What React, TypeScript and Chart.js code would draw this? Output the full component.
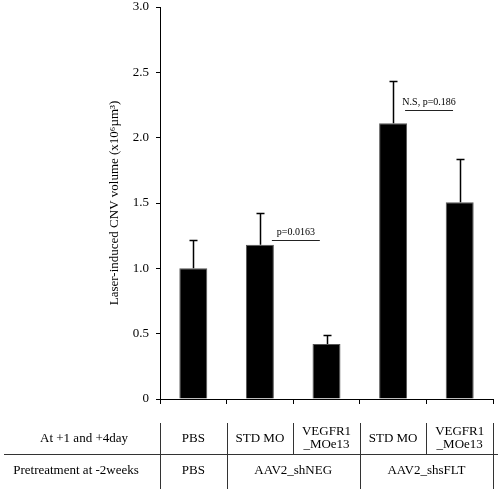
import React, { useEffect, useRef } from "react";
import { Chart, registerables } from "chart.js";

Chart.register(...registerables);

const categories = ["PBS", "STD MO (shNEG)", "VEGFR1_MOe13 (shNEG)", "STD MO (shsFLT)", "VEGFR1_MOe13 (shsFLT)"];
const meanValues = [1.0, 1.18, 0.42, 2.11, 1.505];
const errorTops = [1.22, 1.42, 0.49, 2.43, 1.84];
const yTickValues = [0, 0.5, 1.0, 1.5, 2.0, 2.5, 3.0];
const yTickLabels = ["0", "0.5", "1.0", "1.5", "2.0", "2.5", "3.0"];
const yAxisTitle = "Laser-induced CNV volume (x10\u2076\u00B5m\u00B3)";

const sigLabels = ["p=0.0163", "N.S, p=0.186"];
const sigFrom = [1.18, 3.18];
const sigTo = [1.9, 3.9];
const sigY = [1.22, 2.21];

const row1Header = "At +1 and +4day";
const row2Header = "Pretreatment at -2weeks";
const row1Cells = [["PBS"], ["STD MO"], ["VEGFR1", "_MOe13"], ["STD MO"], ["VEGFR1", "_MOe13"]];
const row2Groups = ["PBS", "AAV2_shNEG", "AAV2_shsFLT"];
const row2Spans = [[0, 1], [1, 3], [3, 5]];

const SERIF = "'Liberation Serif', 'Times New Roman', serif";

const overlayPlugin = {
  id: "overlay",
  afterDatasetsDraw(chart: any) {
    const ctx = chart.ctx;
    const x = chart.scales.x;
    const y = chart.scales.y;
    ctx.save();
    ctx.strokeStyle = "#000";
    ctx.lineWidth = 1.5;
    meanValues.forEach((v, i) => {
      const px = Math.round(x.getPixelForValue(i)) + 0.5;
      const y0 = y.getPixelForValue(v);
      const y1 = Math.round(y.getPixelForValue(errorTops[i])) + 0.5;
      ctx.beginPath();
      ctx.moveTo(px, y0);
      ctx.lineTo(px, y1);
      ctx.moveTo(px - 4, y1);
      ctx.lineTo(px + 4, y1);
      ctx.stroke();
    });
    ctx.lineWidth = 1;
    ctx.strokeStyle = "#222";
    ctx.fillStyle = "#000";
    ctx.font = "10px " + SERIF;
    ctx.textAlign = "center";
    ctx.textBaseline = "alphabetic";
    sigLabels.forEach((lab, i) => {
      const xa = x.getPixelForValue(sigFrom[i]);
      const xb = x.getPixelForValue(sigTo[i]);
      const py = Math.round(y.getPixelForValue(sigY[i])) + 0.5;
      ctx.beginPath();
      ctx.moveTo(xa, py);
      ctx.lineTo(xb, py);
      ctx.stroke();
      ctx.fillText(lab, (xa + xb) / 2, py - 6);
    });
    ctx.restore();
  },
  afterDraw(chart: any) {
    const ctx = chart.ctx;
    const x = chart.scales.x;
    const edge = (k: number) => Math.round(x.getPixelForValue(k - 0.5)) + 0.5;
    ctx.save();
    ctx.strokeStyle = "#333";
    ctx.lineWidth = 1;
    const top1 = 423, mid = 454.5, bot = 489;
    ctx.beginPath();
    ctx.moveTo(4, mid);
    ctx.lineTo(498, mid);
    ctx.stroke();
    ctx.beginPath();
    for (let k = 0; k <= 5; k++) {
      const px = edge(k);
      ctx.moveTo(px, top1);
      ctx.lineTo(px, mid);
    }
    const row2Edges = [0, 1, 3, 5];
    row2Edges.forEach((k) => {
      const px = edge(k);
      ctx.moveTo(px, mid);
      ctx.lineTo(px, bot);
    });
    ctx.stroke();

    ctx.fillStyle = "#000";
    ctx.font = "13px " + SERIF;
    ctx.textAlign = "center";
    ctx.textBaseline = "middle";
    ctx.fillText(row1Header, 84, 439);
    ctx.fillText(row2Header, 76, 471);
    row1Cells.forEach((lines, i) => {
      const cx = x.getPixelForValue(i);
      if (lines.length === 1) {
        ctx.fillText(lines[0], cx, 439);
      } else {
        ctx.fillText(lines[0], cx, 432);
        ctx.fillText(lines[1], cx, 445);
      }
    });
    row2Groups.forEach((g, i) => {
      const [a, b] = row2Spans[i];
      const cx = (x.getPixelForValue(a - 0.5) + x.getPixelForValue(b - 0.5)) / 2;
      ctx.fillText(g, cx, 471);
    });
    ctx.restore();
  },
};

export default function App() {
  const ref = useRef<HTMLCanvasElement>(null);
  useEffect(() => {
    if (!ref.current) return;
    const chart = new Chart(ref.current, {
      type: "bar",
      data: {
        labels: categories,
        datasets: [
          {
            data: meanValues,
            backgroundColor: "#000",
            borderColor: "#555",
            borderWidth: 1,
            barPercentage: 0.42,
            categoryPercentage: 1.0,
          },
        ],
      },
      options: {
        animation: false,
        responsive: false,
        devicePixelRatio: 1,
        layout: { padding: { top: 7, right: 5, bottom: 0, left: 0 } },
        plugins: { legend: { display: false }, tooltip: { enabled: false } },
        scales: {
          x: {
            grid: {
              display: true,
              drawOnChartArea: false,
              drawTicks: true,
              tickLength: 5,
              color: "#000",
              offset: true,
            },
            border: { display: true, color: "#000", width: 1 },
            ticks: { display: false },
            afterFit: (s: any) => {
              s.height = 98;
              s.paddingLeft = 0;
              s.paddingRight = 0;
            },
          },
          y: {
            min: 0,
            max: 3,
            afterBuildTicks: (s: any) => {
              s.ticks = yTickValues.map((v) => ({ value: v }));
            },
            ticks: {
              font: { size: 13, family: SERIF },
              color: "#000",
              padding: 7,
              callback: (_v: any, i: number) => yTickLabels[i],
            },
            grid: { drawOnChartArea: false, drawTicks: true, tickLength: 4, color: "#000" },
            border: { display: true, color: "#000", width: 1 },
            title: {
              display: true,
              text: yAxisTitle,
              font: { size: 13, family: SERIF },
              color: "#000",
              padding: { top: 107, bottom: 0 },
            },
            afterFit: (s: any) => {
              s.width = 160;
              s.paddingTop = 0;
              s.paddingBottom = 0;
            },
          },
        },
      },
      plugins: [overlayPlugin],
    });
    return () => chart.destroy();
  }, []);
  return (
    <div style={{ position: "absolute", left: 0, top: 0, width: 498, height: 497, background: "#fff" }}>
      <canvas ref={ref} width={498} height={497} style={{ display: "block" }} />
    </div>
  );
}
